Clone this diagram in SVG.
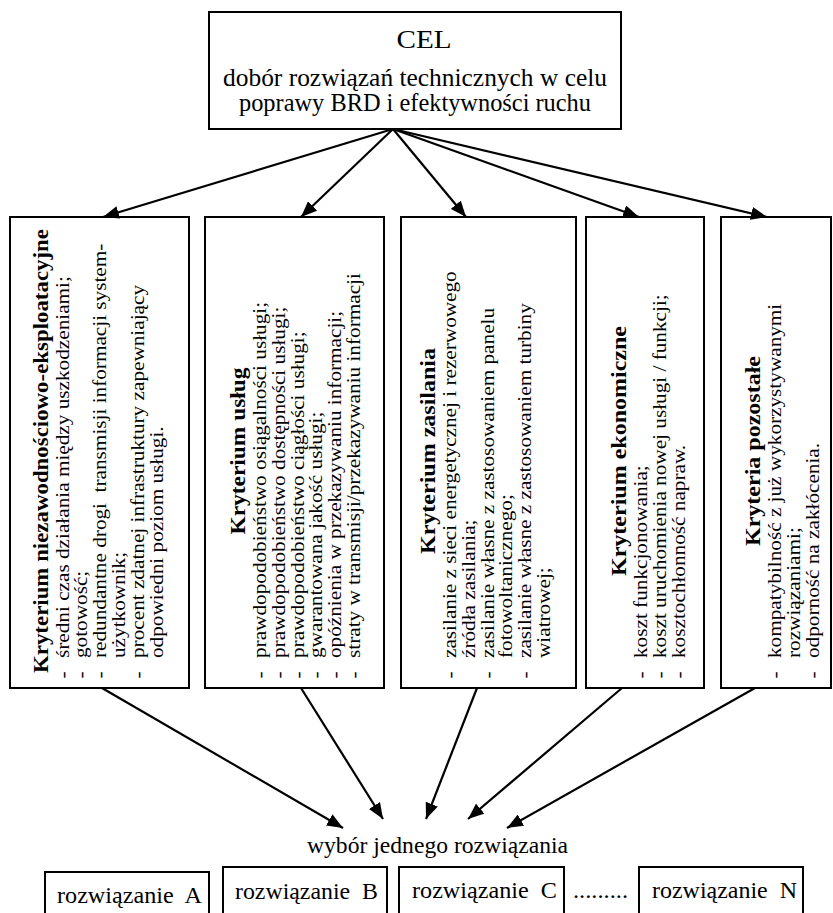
<svg xmlns="http://www.w3.org/2000/svg" width="833" height="913" viewBox="0 0 833 913">
<defs>
<marker id="ah" viewBox="0 0 16 13" refX="16" refY="6.5" markerWidth="16" markerHeight="13" markerUnits="userSpaceOnUse" orient="auto">
<path d="M0,0 L16,6.5 L0,13 z" fill="#000"/>
</marker>
<style>
.box{fill:#fff;stroke:#000;stroke-width:2}
.t{font-family:"Liberation Serif","Times New Roman",Tinos,serif;fill:#000}
.ttl{font-family:"Liberation Serif","Times New Roman",Tinos,serif;font-weight:bold;font-size:21.5px;fill:#000}
.it{font-family:"Liberation Serif","Times New Roman",Tinos,serif;font-size:18px;fill:#000}
.con line{stroke:#000;stroke-width:2.2;marker-end:url(#ah)}
</style>
</defs>
<rect width="833" height="913" fill="#fff"/>

<g id="cel">
<rect class="box" x="209" y="12" width="412" height="117"/>
<text class="t" x="424" y="48" font-size="25" text-anchor="middle" textLength="55" lengthAdjust="spacingAndGlyphs">CEL</text>
<text class="t" x="415" y="86" font-size="25" text-anchor="middle" textLength="384" lengthAdjust="spacingAndGlyphs">dobór rozwiązań technicznych w celu</text>
<text class="t" x="415" y="111" font-size="25" text-anchor="middle" textLength="352" lengthAdjust="spacingAndGlyphs">poprawy BRD i efektywności ruchu</text>
</g>

<g id="k1">
<rect class="box" x="10" y="217" width="179" height="471"/>
<text class="ttl" transform="translate(0,451) rotate(-90)" x="0" y="47.5" text-anchor="middle" textLength="444" lengthAdjust="spacingAndGlyphs">Kryterium niezawodnościowo-eksploatacyjne</text>
<text class="it" transform="translate(0,658) rotate(-90) scale(1.18,1)" xml:space="preserve"><tspan x="-17.4" y="68.6">-</tspan><tspan x="0" y="68.6">średni czas działania między uszkodzeniami;</tspan><tspan x="-17.4" y="87.4">-</tspan><tspan x="0" y="87.4">gotowość;</tspan><tspan x="-17.4" y="106.2">-</tspan><tspan x="0" y="106.2">redundantne drogi  transmisji informacji system-</tspan><tspan x="0" y="125">użytkownik;</tspan><tspan x="-17.4" y="143.8">-</tspan><tspan x="0" y="143.8">procent zdatnej infrastruktury zapewniający</tspan><tspan x="0" y="162.6">odpowiedni poziom usługi.</tspan></text>
</g>

<g id="k2">
<rect class="box" x="205" y="217" width="179" height="471"/>
<text class="ttl" transform="translate(0,451) rotate(-90)" x="0" y="245" text-anchor="middle" textLength="167" lengthAdjust="spacingAndGlyphs">Kryterium usług</text>
<text class="it" transform="translate(0,658) rotate(-90) scale(1.18,1)"><tspan x="-17.4" y="266">-</tspan><tspan x="0" y="266">prawdopodobieństwo osiągalności usługi;</tspan><tspan x="-17.4" y="285">-</tspan><tspan x="0" y="285">prawdopodobieństwo dostępności usługi;</tspan><tspan x="-17.4" y="304">-</tspan><tspan x="0" y="304">prawdopodobieństwo ciągłości usługi;</tspan><tspan x="-17.4" y="322">-</tspan><tspan x="0" y="322">gwarantowana jakość usługi;</tspan><tspan x="-17.4" y="341">-</tspan><tspan x="0" y="341">opóźnienia w przekazywaniu informacji;</tspan><tspan x="-17.4" y="360">-</tspan><tspan x="0" y="360">straty w transmisji/przekazywaniu informacji</tspan></text>
</g>

<g id="k3">
<rect class="box" x="401" y="217" width="175" height="471"/>
<text class="ttl" transform="translate(0,451) rotate(-90)" x="0" y="435" text-anchor="middle" textLength="206" lengthAdjust="spacingAndGlyphs">Kryterium zasilania</text>
<text class="it" transform="translate(0,658) rotate(-90) scale(1.18,1)"><tspan x="-17.4" y="456">-</tspan><tspan x="0" y="456">zasilanie z sieci energetycznej i rezerwowego</tspan><tspan x="0" y="475">źródła zasilania;</tspan><tspan x="-17.4" y="494">-</tspan><tspan x="0" y="494">zasilanie własne z zastosowaniem panelu</tspan><tspan x="0" y="512">fotowoltanicznego;</tspan><tspan x="-17.4" y="531">-</tspan><tspan x="0" y="531">zasilanie własne z zastosowaniem turbiny</tspan><tspan x="0" y="550">wiatrowej;</tspan></text>
</g>

<g id="k4">
<rect class="box" x="586" y="217" width="118" height="471"/>
<text class="ttl" transform="translate(0,451) rotate(-90)" x="0" y="626" text-anchor="middle" textLength="250" lengthAdjust="spacingAndGlyphs">Kryterium ekonomiczne</text>
<text class="it" transform="translate(0,658) rotate(-90) scale(1.18,1)"><tspan x="-17.4" y="647">-</tspan><tspan x="0" y="647">koszt funkcjonowania;</tspan><tspan x="-17.4" y="666">-</tspan><tspan x="0" y="666">koszt uruchomienia nowej usługi / funkcji;</tspan><tspan x="-17.4" y="685">-</tspan><tspan x="0" y="685">kosztochłonność napraw.</tspan></text>
</g>

<g id="k5">
<rect class="box" x="721" y="217" width="110" height="471"/>
<text class="ttl" transform="translate(0,451) rotate(-90)" x="0" y="760" text-anchor="middle" textLength="190" lengthAdjust="spacingAndGlyphs">Kryteria pozostałe</text>
<text class="it" transform="translate(0,658) rotate(-90) scale(1.18,1)"><tspan x="-17.4" y="781">-</tspan><tspan x="0" y="781">kompatybilność z już wykorzystywanymi</tspan><tspan x="0" y="800">rozwiązaniami;</tspan><tspan x="-17.4" y="819">-</tspan><tspan x="0" y="819">odporność na zakłócenia.</tspan></text>
</g>

<g id="wybor">
<text class="t" x="307" y="853" font-size="23.5" textLength="261" lengthAdjust="spacingAndGlyphs">wybór jednego rozwiązania</text>
</g>

<g id="rA">
<rect class="box" x="45" y="872" width="164" height="60"/>
<text class="t" x="57" y="903" font-size="23" textLength="145" lengthAdjust="spacingAndGlyphs" xml:space="preserve">rozwiązanie  A</text>
</g>
<g id="rB">
<rect class="box" x="223" y="867" width="164" height="60"/>
<text class="t" x="235" y="899" font-size="23" textLength="143" lengthAdjust="spacingAndGlyphs" xml:space="preserve">rozwiązanie  B</text>
</g>
<g id="rC">
<rect class="box" x="399" y="867" width="165" height="60"/>
<text class="t" x="412" y="898" font-size="23" textLength="145" lengthAdjust="spacingAndGlyphs" xml:space="preserve">rozwiązanie  C</text>
</g>
<g id="dots">
<text class="t" x="573" y="898" font-size="23" textLength="55" lengthAdjust="spacingAndGlyphs">.........</text>
</g>
<g id="rN">
<rect class="box" x="639" y="867" width="164" height="60"/>
<text class="t" x="652" y="898" font-size="23" textLength="145" lengthAdjust="spacingAndGlyphs" xml:space="preserve">rozwiązanie  N</text>
</g>

<g id="connectors" class="con">
<line x1="393" y1="129" x2="103" y2="217"/>
<line x1="393" y1="129" x2="301" y2="217"/>
<line x1="393" y1="129" x2="466" y2="217"/>
<line x1="393" y1="129" x2="639" y2="217"/>
<line x1="393" y1="129" x2="767" y2="217"/>
<line x1="102" y1="688" x2="343" y2="828"/>
<line x1="301" y1="688" x2="383" y2="819"/>
<line x1="477" y1="688" x2="426" y2="819"/>
<line x1="622" y1="688" x2="468" y2="819"/>
<line x1="755" y1="688" x2="507" y2="828"/>
</g>
</svg>
